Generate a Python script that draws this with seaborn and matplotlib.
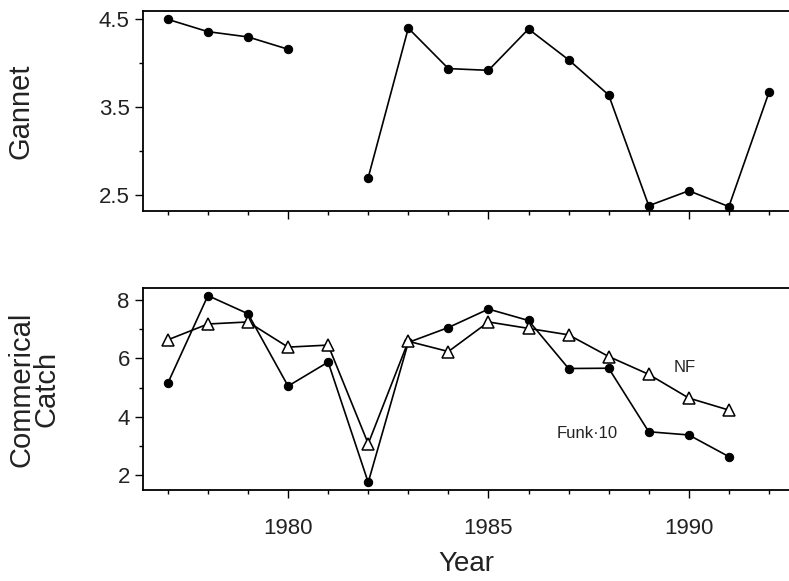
import matplotlib
matplotlib.use("Agg")
import matplotlib.pyplot as plt
import seaborn as sns
import pandas as pd
import numpy as np
from matplotlib.ticker import MultipleLocator

sns.set_theme(style="ticks")
plt.rcParams['font.family'] = ['Liberation Sans', 'DejaVu Sans']

# Data
gannet_years = [1977, 1978, 1979, 1980, 1981, 1982, 1983, 1984, 1985, 1986,
                1987, 1988, 1989, 1990, 1991, 1992]
gannet = [4.50, 4.36, 4.30, 4.16, np.nan, 2.70, 4.40, 3.94, 3.92, 4.39,
          4.04, 3.64, 2.38, 2.55, 2.37, 3.67]

catch_years = [1977, 1978, 1979, 1980, 1981, 1982, 1983, 1984, 1985, 1986,
               1987, 1988, 1989, 1990, 1991]
funk10 = [5.15, 8.14, 7.52, 5.05, 5.87, 1.76, 6.54, 7.05, 7.68, 7.29,
          5.65, 5.66, 3.49, 3.38, 2.64]
nf = [6.63, 7.17, 7.24, 6.38, 6.45, 3.08, 6.58, 6.23, 7.24, 7.02,
      6.80, 6.06, 5.45, 4.64, 4.23]

gdf = pd.DataFrame({"Year": gannet_years, "Gannet": gannet})
# break the line at missing values: each run of observed values is its own unit
gdf["seg"] = gdf["Gannet"].isna().cumsum()
gdf = gdf.dropna()
cdf = pd.DataFrame({"Year": catch_years, "Funk-10": funk10, "NF": nf})

fig = plt.figure(figsize=(7.89, 5.81), dpi=100)
ax1 = fig.add_axes([143/789, 1 - 211/581, 646/789, 200/581])
ax2 = fig.add_axes([143/789, 1 - 490/581, 646/789, 202/581])

lw = 1.2
sns.lineplot(data=gdf, x="Year", y="Gannet", units="seg", estimator=None,
             ax=ax1, color="black", lw=lw,
             marker="o", markersize=6, markeredgecolor="black")

sns.lineplot(data=cdf, x="Year", y="Funk-10", ax=ax2, color="black", lw=lw,
             marker="o", markersize=6, markeredgecolor="black")
sns.lineplot(data=cdf, x="Year", y="NF", ax=ax2, color="black", lw=lw,
             marker="^", markersize=8, markerfacecolor="white",
             markeredgecolor="black", markeredgewidth=1.1)

ax2.text(1989.9, 5.68, "NF", fontsize=12, ha="center", va="center", color="#222222")
ax2.text(1987.47, 3.42, "Funk\u00b710", fontsize=12, ha="center", va="center", color="#222222")

xlim = (1976.38, 1992.5)
for ax in (ax1, ax2):
    ax.set_xlim(*xlim)
    ax.xaxis.set_major_locator(MultipleLocator(5))
    ax.xaxis.set_minor_locator(MultipleLocator(1))
    for sp in ax.spines.values():
        sp.set_linewidth(1.3)
        sp.set_color("black")
    ax.spines['right'].set_visible(False)
    ax.tick_params(axis='both', which='major', direction='out', length=6,
                   width=1.0, colors='black', labelsize=16, labelcolor='#222222')
    ax.tick_params(axis='both', which='minor', direction='out', length=3,
                   width=1.0, colors='black')
    ax.set_facecolor("white")

ax1.set_ylim(2.32, 4.595)
ax1.set_yticks([2.5, 3.5, 4.5])
ax1.set_yticklabels(["2.5", "3.5", "4.5"])
ax1.yaxis.set_minor_locator(MultipleLocator(0.5))
ax1.tick_params(axis='x', which='major', labelbottom=False)
ax1.set_xlabel("")
ax1.set_ylabel("Gannet", fontsize=21, color="#222222")
ax1.yaxis.set_label_coords(-0.168, 0.5)

ax2.set_ylim(1.50, 8.40)
ax2.set_yticks([2, 4, 6, 8])
ax2.yaxis.set_minor_locator(MultipleLocator(1))
ax2.set_xticks([1980, 1985, 1990])
ax2.set_xticklabels(["1980", "1985", "1990"])
ax2.tick_params(axis='x', which='major', pad=14)
ax2.set_xlabel("Year", fontsize=20, labelpad=9, color="#222222")
ax2.set_ylabel("Commerical\nCatch", fontsize=21, color="#222222",
               linespacing=0.85)
ax2.yaxis.set_label_coords(-0.128, 0.5)

fig.savefig("out.png", dpi=100, facecolor="white")
